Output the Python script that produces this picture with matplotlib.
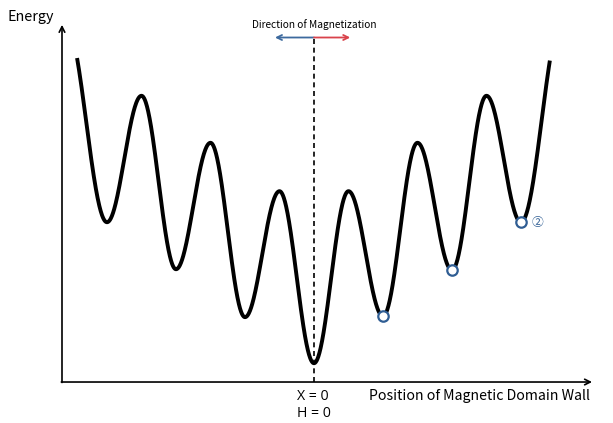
import numpy as np
import matplotlib.pyplot as plt

plt.rcParams['font.family'] = ['Noto Sans CJK KR', 'DejaVu Sans']

# extrema of the energy landscape (position in half-periods, energy in a.u.)
node_x = [-7.2, -6, -5, -4, -3, -2, -1, 0, 1, 2, 3, 4, 5, 6, 7.2]
node_E = [7.65, 3.40, 6.09, 2.40, 5.09, 1.38, 4.06, 0.40,
          4.06, 1.40, 5.09, 2.38, 6.09, 3.40, 7.75]
x_start, x_end = -6.87, 6.84

# pinning sites marked with circles
pin_x = [2, 4, 6]
pin_E = [1.40, 2.38, 3.40]
pin_label = "②"

x_label = "Position of Magnetic Domain Wall"
y_label = "Energy"
origin_labels = ["X = 0", "H = 0"]
dir_label = "Direction of Magnetization"


def smooth_path(xs, es, n=120):
    # half-cosine segments between neighbouring extrema
    px, pe = [], []
    for i in range(len(xs) - 1):
        t = np.linspace(0, 1, n)
        px.append(xs[i] + (xs[i+1] - xs[i]) * t)
        pe.append(es[i] + (es[i+1] - es[i]) * (1 - np.cos(np.pi * t)) / 2)
    return np.concatenate(px), np.concatenate(pe)


fig = plt.figure(figsize=(6.13, 4.23), dpi=100)
ax = fig.add_axes([0, 0, 1, 1])
ax.set_xlim(-9.101, 8.667)
ax.set_ylim(-0.872, 8.128)
ax.axis('off')

cx, ce = smooth_path(node_x, node_E)
keep = (cx >= x_start) & (cx <= x_end)
ax.plot(cx[keep], ce[keep], color='black', lw=2.8, solid_capstyle='butt', zorder=3)

# axes with arrows
x0 = -7.304
ax.annotate('', xy=(8.06, 0), xytext=(x0 - 0.02, 0),
            arrowprops=dict(arrowstyle='->', lw=1.2, color='black',
                            mutation_scale=10, shrinkA=0, shrinkB=0))
ax.annotate('', xy=(x0, 7.6), xytext=(x0, -0.01),
            arrowprops=dict(arrowstyle='->', lw=1.2, color='black',
                            mutation_scale=10, shrinkA=0, shrinkB=0))

# dashed line at X = 0
ax.plot([0, 0], [0, 7.33], color='black', lw=1.2, ls=(0, (3, 2.2)), zorder=2)

# magnetization direction arrows
ax.annotate('', xy=(-1.13, 7.33), xytext=(0, 7.33),
            arrowprops=dict(arrowstyle='->', lw=1.3, color='#3d6a9e',
                            mutation_scale=9, shrinkA=0, shrinkB=0))
ax.annotate('', xy=(1.05, 7.33), xytext=(0, 7.33),
            arrowprops=dict(arrowstyle='->', lw=1.3, color='#d9434b',
                            mutation_scale=9, shrinkA=0, shrinkB=0))
ax.text(0, 7.6, dir_label, ha='center', va='center', fontsize=7.3)

# pinning circles
ax.plot(pin_x, pin_E, 'o', ms=7.5, mfc='white', mec='#2f5d93', mew=1.6, zorder=4)
ax.text(pin_x[-1] + 0.3, pin_E[-1], pin_label, ha='left', va='center',
        fontsize=8.5, color='#2f5d93')

# labels
ax.text(-8.89, 7.77, y_label, ha='left', va='center', fontsize=10.3)
ax.text(1.59, -0.3, x_label, ha='left', va='center', fontsize=10.2)
ax.text(-0.48, -0.3, origin_labels[0], ha='left', va='center', fontsize=10.2,
        family='Open Sans')
ax.text(-0.48, -0.68, origin_labels[1], ha='left', va='center', fontsize=10.2,
        family='Open Sans')

fig.savefig('out.png', dpi=100)
